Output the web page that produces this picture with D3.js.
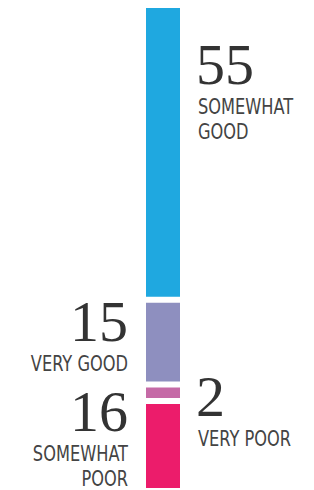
<html>
<head>
<style>
body { margin: 0; background: #fff; }
.num { font-family: "Liberation Serif", serif; fill: #333; }
.lbl { font-family: "DejaVu Sans", sans-serif; font-stretch: condensed; fill: #444; }
</style>
</head>
<body>
<svg></svg>
<script src="https://cdn.jsdelivr.net/npm/d3@7"></script>
<script>
// top to bottom, as stacked in the bar
var categories = ["SOMEWHAT GOOD", "VERY GOOD", "VERY POOR", "SOMEWHAT POOR"];
var values = [55, 15, 2, 16];
var colors = ["#1fa8e0", "#8e8fbf", "#c56aa6", "#ec1c6b"];
var sides = ["right", "left", "right", "left"];

var width = 314, height = 490;
var barX = 146, barW = 34, barTop = 8, barBottom = 488, gap = 6;

var svg = d3.select("svg").attr("width", width).attr("height", height);

var total = d3.sum(values);
var y = d3.scaleLinear()
    .domain([0, total])
    .range([0, barBottom - barTop - gap * (values.length - 1)]);

var acc = 0;
var rows = values.map(function(v, i) {
  var r = { v: v, i: i, y0: barTop + y(acc) + gap * i, h: y(v) };
  acc += v;
  return r;
});

svg.selectAll("rect.seg")
    .data(rows)
  .enter().append("rect")
    .attr("class", "seg")
    .attr("x", barX)
    .attr("width", barW)
    .attr("y", function(d) { return d.y0; })
    .attr("height", function(d) { return d.h; })
    .attr("fill", function(d) { return colors[d.i]; });

// label block: number, then one or two lines of text
var lineY = [72, 97];
var blockH = 101;

function blockTop(d) {
  if (d.i == 0) return d.y0 + 34;
  if (d.i == 2) return d.y0 - 14;
  if (d.i == rows.length - 1) return height - blockH;
  return d.y0 - 4;
}

var g = svg.selectAll("g.lab")
    .data(rows)
  .enter().append("g")
    .attr("class", "lab")
    .attr("transform", function(d) {
      var x = sides[d.i] == "right" ? barX + barW + 16 : barX - 18;
      return "translate(" + x + "," + blockTop(d) + ")";
    });

g.append("text")
    .attr("class", "num")
    .attr("y", 42)
    .attr("font-size", 58)
    .attr("text-anchor", function(d) { return sides[d.i] == "right" ? "start" : "end"; })
    .text(function(d) { return d.v; });

g.each(function(d) {
  var lines = (d.i == 1 || d.i == 2) ? [categories[d.i]] : categories[d.i].split(" ");
  var anchor = sides[d.i] == "right" ? "start" : "end";
  d3.select(this).selectAll("text.lbl")
      .data(lines)
    .enter().append("text")
      .attr("class", "lbl")
      .attr("font-size", 22)
      .attr("text-anchor", anchor)
      .attr("transform", function(l, j) {
        return "translate(" + (anchor == "start" ? 2 : 0) + "," + lineY[j] + ") scale(0.82,1)";
      })
      .text(function(l) { return l; });
});
</script>
</body>
</html>
